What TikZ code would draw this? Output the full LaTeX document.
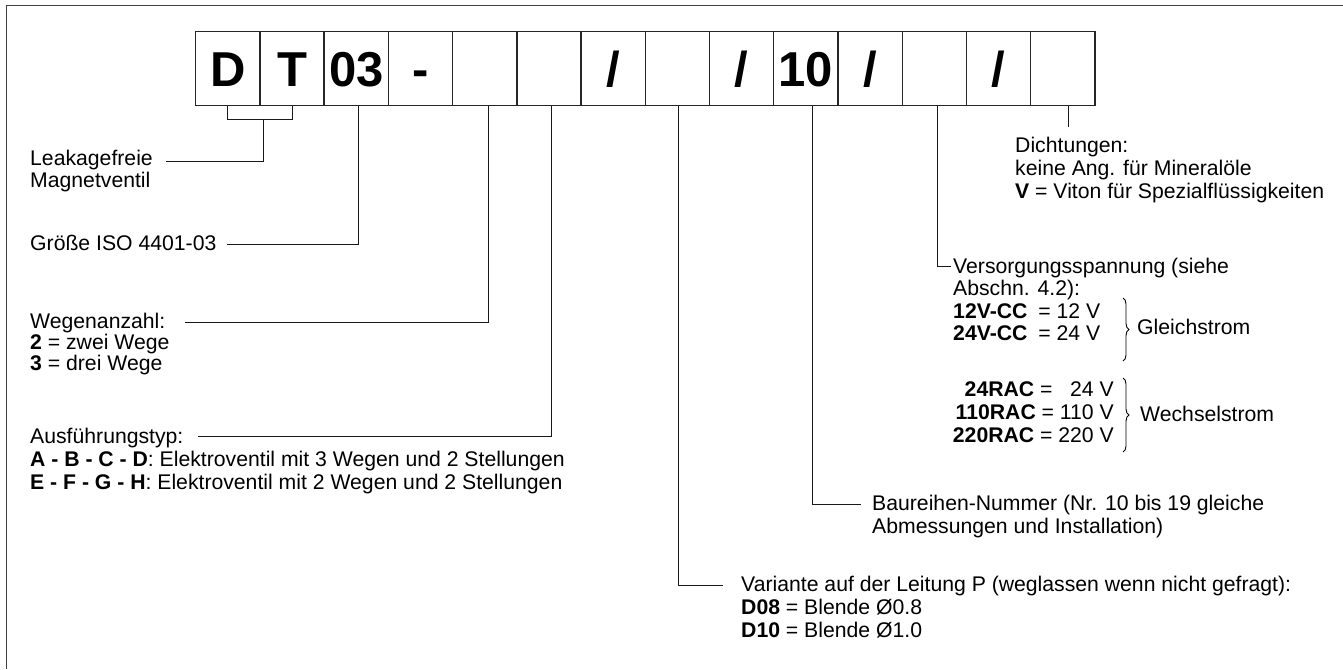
\documentclass[tikz,border=0pt]{standalone}
\usepackage{fontspec}
\setmainfont{Liberation Sans}
\usetikzlibrary{decorations.pathreplacing,calc}
\newcommand\lblfont{\fontsize{21.2}{22.5}\selectfont}
\newcommand\cellfont{\fontsize{49}{49}\selectfont\bfseries}
\tikzset{
  cell/.style={draw=black!85, line width=1.3pt, minimum width=64.23pt, minimum height=74.4pt,
    inner sep=0pt, font=\cellfont, text height=35pt, text depth=0pt},
  lab/.style={anchor=base west, inner sep=0pt, font=\lblfont},
  conn/.style={draw=black!90, line width=1pt},
  frameline/.style={draw=black!75, line width=1.8pt},
  brc/.style={draw=black, line width=0.9pt, decorate, decoration={brace, amplitude=6pt, aspect=0.5}}
}
\begin{document}
\begin{tikzpicture}[x=1pt,y=-1pt]
\useasboundingbox (0,0) rectangle (1343,669);
\fill[white] (0,0) rectangle (1343,669);
\draw[frameline] (6.5,669) -- (6.5,5.5) -- (1343,5.5);

% code boxes
\node[cell] (b1)  at (227.8,68.5) {D};
\node[cell] (b2)  at (292.0,68.5) {T};
\node[cell] (b3)  at (356.3,68.5) {03};
\node[cell] (b4)  at (420.5,68.5) {-};
\node[cell] (b5)  at (484.7,68.5) {};
\node[cell] (b6)  at (549.0,68.5) {};
\node[cell] (b7)  at (613.2,68.5) {/};
\node[cell] (b8)  at (677.4,68.5) {};
\node[cell] (b9)  at (741.7,68.5) {/};
\node[cell] (b10) at (805.9,68.5) {10};
\node[cell] (b11) at (870.2,68.5) {/};
\node[cell] (b12) at (934.4,68.5) {};
\node[cell] (b13) at (998.6,68.5) {/};
\node[cell] (b14) at (1062.9,68.5) {};

% left labels
\node[lab] (leak) at (30,165) {Leakagefreie};
\node[lab] (mag)  at (30,187) {Magnetventil};
\node[lab] (gr)   at (30,250) {Größe ISO 4401-03};
\node[lab] (weg)  at (30,328) {Wegenanzahl:};
\node[lab] (weg2) at (30,349) {\textbf{2} = zwei Wege};
\node[lab] (weg3) at (30,370) {\textbf{3} = drei Wege};
\node[lab] (aus)  at (30,443) {Ausführungstyp:};
\node[lab] (aus2) at (30,466) {\textbf{A - B - C - D}: Elektroventil mit 3 Wegen und 2 Stellungen};
\node[lab] (aus3) at (30,489) {\textbf{E - F - G - H}: Elektroventil mit 2 Wegen und 2 Stellungen};

% right labels
\node[lab] (dich)  at (1015,152) {Dichtungen:};
\node[lab] (dich2) at (1015,175) {keine Ang. für Mineralöle};
\node[lab] (dich3) at (1015,198) {\textbf{V} = Viton für Spezialflüssigkeiten};

\node[lab] (vers)  at (953,273) {Versorgungsspannung (siehe};
\node[lab] (vers2) at (953,295.5) {Abschn. 4.2):};
\node[lab] (v12) at (953,318) {\textbf{12V-CC}\hspace{11pt}= 12 V};
\node[lab] (v24) at (953,340.5) {\textbf{24V-CC}\hspace{11pt}= 24 V};
\node[lab, anchor=base east] (r24)  at (1114,396) {\textbf{24RAC} = \phantom{1}24 V};
\node[lab, anchor=base east] (r110) at (1114,419) {\textbf{110RAC} = 110 V};
\node[lab, anchor=base east] (r220) at (1114,442.5) {\textbf{220RAC} = 220 V};
\node[lab] (gleich) at (1137,334) {Gleichstrom};
\node[lab] (wechsel) at (1140,421) {Wechselstrom};
\draw[brc] (1123,298) -- (1123,361);
\draw[brc] (1123,378) -- (1123,452);

\node[lab] (bau)  at (872,510.7) {Baureihen-Nummer (Nr. 10 bis 19 gleiche};
\node[lab] (bau2) at (872,533.3) {Abmessungen und Installation)};

\node[lab] (var)  at (741,591.7) {Variante auf der Leitung P (weglassen wenn nicht gefragt):};
\node[lab] (var2) at (741,614.5) {\textbf{D08} = Blende Ø0.8};
\node[lab] (var3) at (741,637) {\textbf{D10} = Blende Ø1.0};

% connectors
\draw[conn] (b1.south) -- ++(0,12.7) -| (b2.south);
\coordinate (brm) at ($(b1.south)!0.553!(b2.south)+(0,12.7)$);
\draw[conn] (brm) |- ([xshift=13pt,yshift=4pt]leak.base east);
\draw[conn] ([xshift=2pt]b3.south) |- ([xshift=10pt,yshift=5.5pt]gr.base east);
\draw[conn] ([xshift=4pt]b5.south) |- ([xshift=19pt,yshift=5.5pt]weg.base east);
\draw[conn] ([xshift=2pt]b6.south) |- ([xshift=14pt,yshift=6.5pt]aus.base east);
\draw[conn] ([xshift=1pt]b8.south) |- ([xshift=-18pt,yshift=6pt]var.base west);
\draw[conn] ([xshift=6.5pt]b10.south) |- ([xshift=-11pt,yshift=6.5pt]bau.base west);
\draw[conn] ([xshift=3pt]b12.south) |- ([xshift=-2pt,yshift=6.5pt]vers.base west);
\draw[conn] ([xshift=6pt]b14.south) -- ++(0,21) coordinate (dend);
\end{tikzpicture}
\end{document}
